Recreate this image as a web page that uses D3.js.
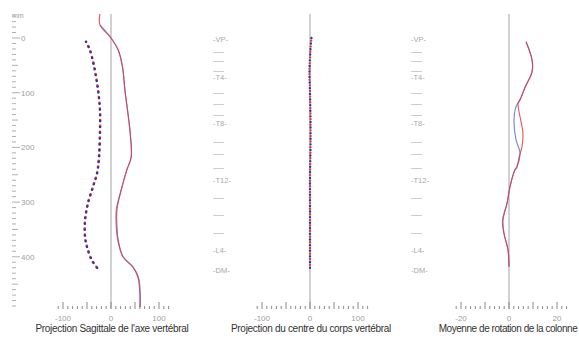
<!DOCTYPE html>
<html>
<head>
<meta charset="utf-8">
<script src="https://cdn.jsdelivr.net/npm/d3@7"></script>
<style>
  body { margin: 0; background: #fff; }
  svg { display: block; font-family: 'Liberation Sans', Arial, sans-serif; }
</style>
</head>
<body>
<div id="chart"></div>
<script>
// sagittal projection (panel 1): continuous lines, mm -> value
const sagRedMm = [-44, -24, 0, 22, 53, 95, 174, 218, 241, 272, 314, 345, 369, 400, 419, 437, 466, 492];
const sagRedVal = [-23, -23, 0, 15, 24, 29, 40, 42, 33, 23, 12.5, 12.5, 15, 25, 46, 56, 60, 60];
const sagBlueMm = [-24, 0, 22, 53, 95, 174, 218, 241, 272, 314, 345, 369, 400, 419, 437, 466, 492];
const sagBlueVal = [-23, 0, 15, 24, 29, 40, 42, 33, 23, 11, 11, 14, 25, 46, 57, 61, 61];
// sagittal projection (panel 1): dotted series
const sagDotMm = [7, 22, 53, 95, 132, 174, 218, 247, 272, 302, 333, 364, 382, 406, 420];
const sagDotVal = [-52, -44, -35, -27, -23, -23, -25, -29, -37.5, -48, -54, -54, -50, -40, -29];

// centre of vertebral body (panel 2): dotted series
const ctrMm = [0, 20, 60, 100, 150, 200, 250, 300, 350, 400, 424];
const ctrRedVal = [3, 1, -1, 0, 1, 1, 0, 0, 0, 0, 0];
const ctrBlueVal = [3, 1, -1, 0, 1, 1, 0, 0, 0, 0, 0];

// mean rotation (panel 3)
const rotRedMm = [7, 40, 62, 90, 113, 119, 144, 174, 199, 218, 236, 241, 272, 302, 333, 356, 388, 418];
const rotRedVal = [7.1, 9.6, 9.6, 6.7, 4.6, 3.75, 4.6, 5.8, 5.4, 4.2, 3.3, 2.5, 0.4, -0.8, -2.5, -2.1, -0.4, 0];
const rotBlueMm = [7, 40, 62, 90, 113, 126, 150, 186, 210, 236, 241, 272, 302, 333, 356, 388, 418];
const rotBlueVal = [7.1, 9.6, 9.6, 6.7, 4.6, 2.9, 2.1, 2.9, 4.6, 3.3, 2.5, 0.4, -0.8, -2.7, -2.2, -0.4, 0];

// vertebral levels (panels 2 and 3)
const levelMm = [2, 26, 42, 60, 71, 101, 121, 141, 155, 190, 212, 238, 260, 293, 324, 356, 388, 424];
const levelLabels = ['-VP-', '—', '—', '—', '-T4-', '—', '—', '—', '-T8-', '—', '—', '—', '-T12-', '—', '—', '—', '-L4-', '-DM-'];

const mmTickLabels = ['0', '100', '200', '300', '400'];
const titles = [
  'Projection Sagittale de l\'axe vertébral',
  'Projection du centre du corps vertébral',
  'Moyenne de rotation de la colonne',
];

const width = 579;
const height = 339;
const RED = '#e0393c';
const BLUE = '#6f90e0';
const NAVY = '#33339a';
const baseY = 309;

const svg = d3.select('#chart').append('svg').attr('width', width).attr('height', height);

const y = d3.scaleLinear().domain([0, 400]).range([38, 256.8]);

const panels = [
  { cx: 111, span: 100, ticks: d3.range(-110, 121, 10), major: 50, labels: [-100, 0, 100] },
  { cx: 310, span: 100, ticks: d3.range(-110, 121, 10), major: 50, labels: [-100, 0, 100] },
  { cx: 509, span: 20, ticks: d3.range(-22, 25, 2), major: 10, labels: [-20, 0, 20] },
];
panels.forEach((p) => {
  p.x = d3.scaleLinear().domain([-p.span, p.span]).range([p.cx - 48, p.cx + 48]);
});

const line = (p) =>
  d3
    .line()
    .x((d) => p.x(d[1]))
    .y((d) => y(d[0]))
    .curve(d3.curveCatmullRom);

const zip = (a, b) => a.map((v, i) => [v, b[i]]);

// vertical reference lines, bottom ticks and titles
panels.forEach((p, i) => {
  const g = svg.append('g');
  g.append('line')
    .attr('x1', p.x(0)).attr('x2', p.x(0))
    .attr('y1', 14).attr('y2', baseY)
    .attr('stroke', '#a3a3a3').attr('stroke-width', 1);

  g.selectAll('line.tick')
    .data(p.ticks)
    .enter()
    .append('line')
    .attr('class', 'tick')
    .attr('x1', (d) => p.x(d)).attr('x2', (d) => p.x(d))
    .attr('y1', baseY)
    .attr('y2', (d) => (d % p.major === 0 ? baseY - 7 : baseY - 3))
    .attr('stroke', '#8a8a8a').attr('stroke-width', 1);

  g.selectAll('text.tl')
    .data(p.labels)
    .enter()
    .append('text')
    .attr('class', 'tl')
    .attr('x', (d) => p.x(d))
    .attr('y', 321)
    .attr('text-anchor', 'middle')
    .attr('font-size', 8)
    .attr('fill', '#a0a0a0')
    .text((d) => d);

  g.append('text')
    .attr('x', i === 2 ? p.x(0) - 1 : p.x(0) + 1)
    .attr('y', 332)
    .attr('text-anchor', 'middle')
    .attr('font-size', 10)
    .attr('letter-spacing', i === 2 ? -0.45 : -0.3)
    .attr('fill', '#333')
    .text(titles[i]);
});

// panel 1 mm axis
const mmTicks = d3.range(-40, 491, 10);
svg.selectAll('line.mm')
  .data(mmTicks)
  .enter()
  .append('line')
  .attr('x1', 12)
  .attr('x2', (d) => (d % 100 === 0 ? 20 : d % 50 === 0 ? 18 : 16))
  .attr('y1', (d) => y(d)).attr('y2', (d) => y(d))
  .attr('stroke', '#b0b0b0').attr('stroke-width', 1);
svg.selectAll('text.mm')
  .data(mmTickLabels)
  .enter()
  .append('text')
  .attr('x', 21)
  .attr('y', (d) => y(+d) + 3)
  .attr('font-size', 8)
  .attr('fill', '#a0a0a0')
  .text((d) => d);
svg.append('text')
  .attr('x', 12).attr('y', y(-40) + 2)
  .attr('font-size', 7)
  .attr('fill', '#a0a0a0')
  .text('mm');

// vertebral level labels, panels 2 and 3
[213, 411].forEach((lx) => {
  svg.append('g')
    .selectAll('text')
    .data(levelMm)
    .enter()
    .append('text')
    .attr('x', lx)
    .attr('y', (d, i) => y(d) + (levelLabels[i] === '—' ? 2 : 3))
    .attr('font-size', (d, i) => (levelLabels[i] === '—' ? 7 : 7.5))
    .attr('textLength', (d, i) => (levelLabels[i] === '—' ? 11 : null))
    .attr('lengthAdjust', 'spacingAndGlyphs')
    .attr('fill', '#a8a8a8')
    .text((d, i) => levelLabels[i]);
});

// panel 1 series
const p1 = panels[0];
svg.append('path')
  .attr('d', line(p1)(zip(sagDotMm, sagDotVal)))
  .attr('fill', 'none').attr('stroke', RED).attr('stroke-width', 2.6)
  .attr('stroke-linecap', 'round').attr('stroke-dasharray', '0 5.8').attr('stroke-dashoffset', 1);
svg.append('path')
  .attr('d', line(p1)(zip(sagDotMm, sagDotVal)))
  .attr('fill', 'none').attr('stroke', NAVY).attr('stroke-width', 2.6)
  .attr('stroke-linecap', 'round').attr('stroke-dasharray', '0 5.8');
svg.append('path')
  .attr('d', line(p1)(zip(sagBlueMm, sagBlueVal)))
  .attr('fill', 'none').attr('stroke', BLUE).attr('stroke-width', 1.2);
svg.append('path')
  .attr('d', line(p1)(zip(sagRedMm, sagRedVal)))
  .attr('fill', 'none').attr('stroke', RED).attr('stroke-width', 1.1).attr('stroke-opacity', 0.85);

// panel 2 series
const p2 = panels[1];
svg.append('path')
  .attr('d', line(p2)(zip(ctrMm, ctrRedVal)))
  .attr('fill', 'none').attr('stroke', RED).attr('stroke-width', 2.4)
  .attr('stroke-linecap', 'round').attr('stroke-dasharray', '0 5.6').attr('stroke-dashoffset', 2.8);
svg.append('path')
  .attr('d', line(p2)(zip(ctrMm, ctrBlueVal)))
  .attr('fill', 'none').attr('stroke', NAVY).attr('stroke-width', 2.4)
  .attr('stroke-linecap', 'round').attr('stroke-dasharray', '0 5.6');

// panel 3 series
const p3 = panels[2];
svg.append('path')
  .attr('d', line(p3)(zip(rotBlueMm, rotBlueVal)))
  .attr('fill', 'none').attr('stroke', BLUE).attr('stroke-width', 1.2);
svg.append('path')
  .attr('d', line(p3)(zip(rotRedMm, rotRedVal)))
  .attr('fill', 'none').attr('stroke', RED).attr('stroke-width', 1.1).attr('stroke-opacity', 0.85);
</script>
</body>
</html>
